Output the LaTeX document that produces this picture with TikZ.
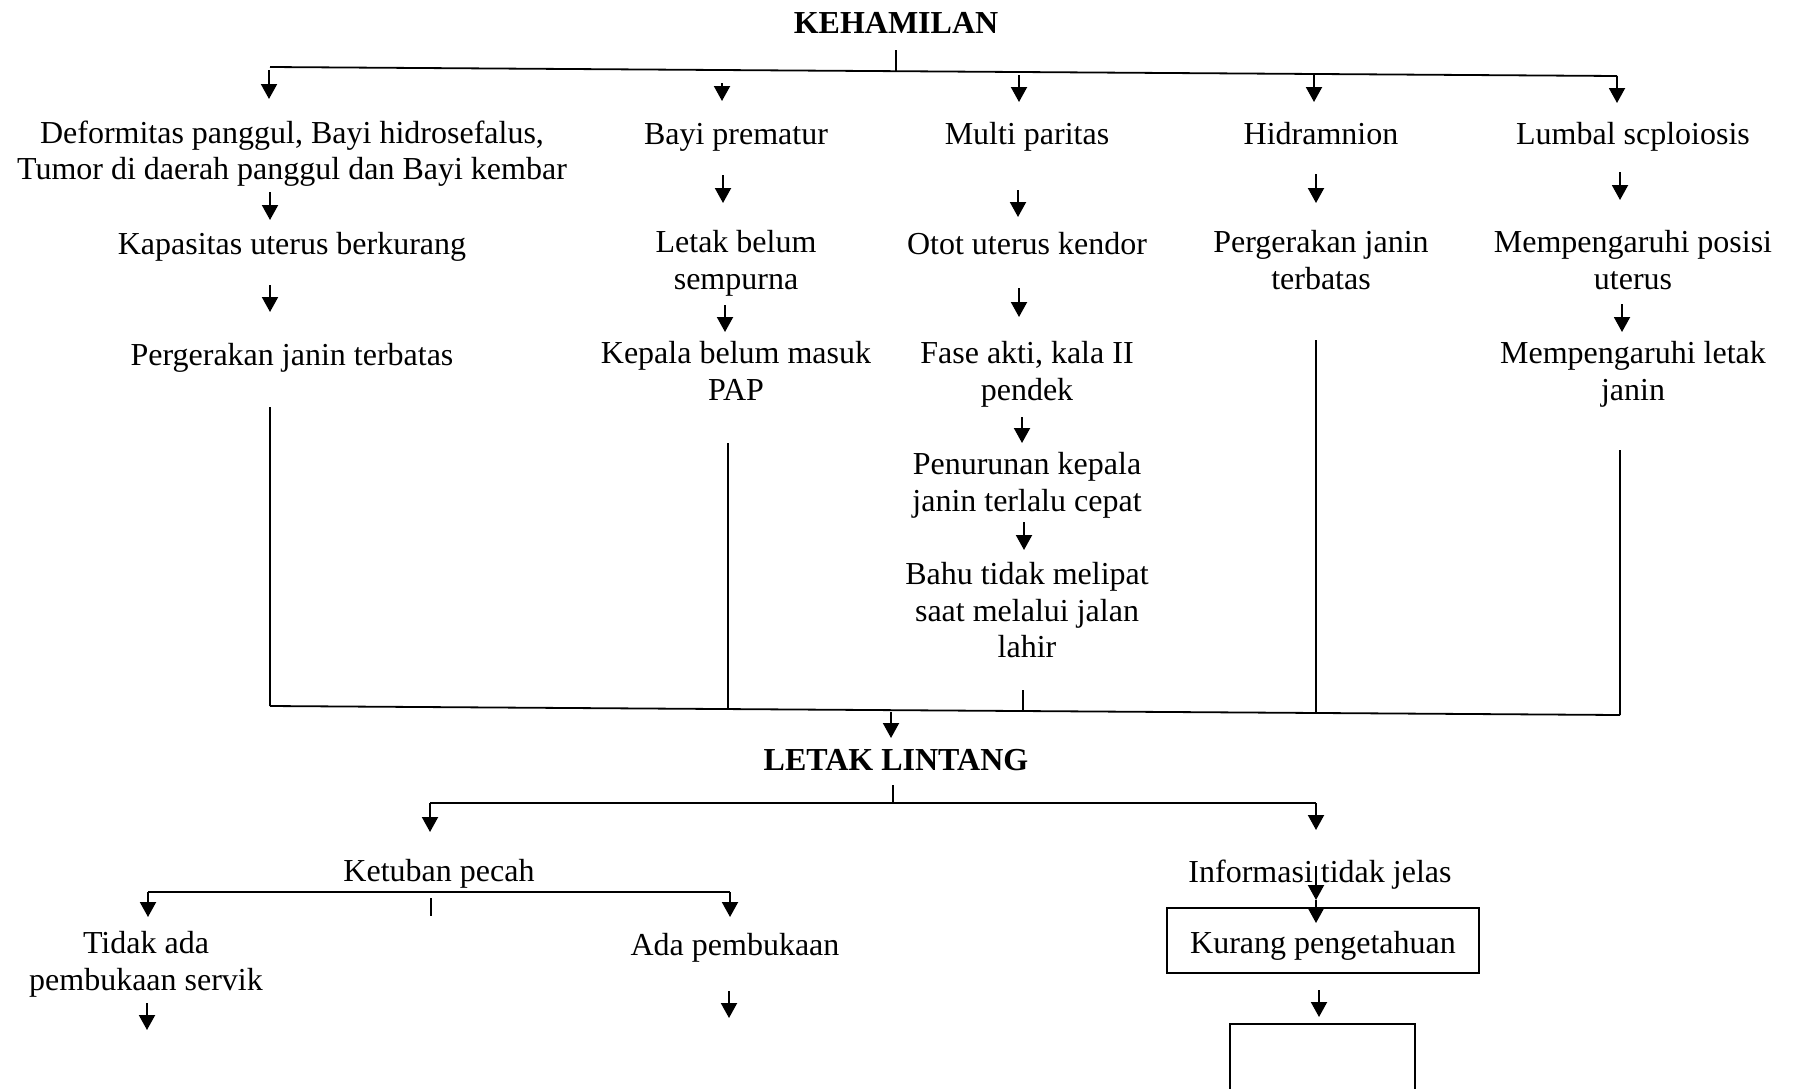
\documentclass[tikz,border=0pt]{standalone}
\usepackage{fontspec}
\setmainfont{Liberation Serif}
\usetikzlibrary{arrows.meta}
\begin{document}
\begin{tikzpicture}[x=0.5pt,y=-0.5pt,
  txt/.style={inner sep=0pt, align=center, font=\fontsize{16}{18.3}\selectfont,
    execute at begin node=\strut, execute at end node=\strut},
  ttl/.style={inner sep=0pt, align=center, font=\fontsize{16}{18.3}\selectfont\bfseries},
  boxed/.style={draw, line width=0.9pt, inner sep=0pt, align=center, font=\fontsize{16}{18.3}\selectfont},
  ln/.style={line width=0.9pt},
  arr/.style={line width=1pt, -{Triangle[width=8pt,length=7.5pt]}}
]
\clip (0,0) rectangle (1794,1088);
\fill[white] (0,0) rectangle (1794,1088);

% ---- text nodes
\node[ttl] (keh) at (896,23) {KEHAMILAN};
\node[txt] (c1a) at (292,155.6) {Deformitas panggul, Bayi hidrosefalus,\\Tumor di daerah panggul dan Bayi kembar};
\node[txt] (c2a) at (736,137.6) {Bayi prematur};
\node[txt] (c3a) at (1027,137.6) {Multi paritas};
\node[txt] (c4a) at (1321,137.6) {Hidramnion};
\node[txt] (c5a) at (1633,137.6) {Lumbal scploiosis};

\node[txt] (c1b) at (292,247.6) {Kapasitas uterus berkurang};
\node[txt] (c2b) at (736,265.6) {Letak belum\\sempurna};
\node[txt] (c3b) at (1027,247.6) {Otot uterus kendor};
\node[txt] (c4b) at (1321,265.6) {Pergerakan janin\\terbatas};
\node[txt] (c5b) at (1633,265.6) {Mempengaruhi posisi\\uterus};

\node[txt] (c1c) at (292,358.6) {Pergerakan janin terbatas};
\node[txt] (c2c) at (736,376.6) {Kepala belum masuk\\PAP};
\node[txt] (c3c) at (1027,376.6) {Fase akti, kala II\\pendek};
\node[txt] (c5c) at (1633,376.6) {Mempengaruhi letak\\janin};
\node[txt] (c3d) at (1027,487.6) {Penurunan kepala\\janin terlalu cepat};
\node[txt] (c3e) at (1027,615.6) {Bahu tidak melipat\\saat melalui jalan\\lahir};

\node[ttl] (ll) at (896,760) {LETAK LINTANG};
\node[txt] (kp) at (439,874.6) {Ketuban pecah};
\node[txt] (inf) at (1320,875.6) {Informasi tidak jelas};
\node[txt] (tda) at (146,966.6) {Tidak ada\\pembukaan servik};
\node[txt] (ada) at (735,948.6) {Ada pembukaan};
\node[boxed, minimum width=156pt, minimum height=32.5pt, text height=13.4pt, text depth=0pt] (kur) at (1323,940.5) {Kurang pengetahuan};
\node[boxed, minimum width=92.5pt, minimum height=55pt, anchor=north] (emp) at (1322.5,1023) {};

% ---- top distribution
\draw[ln] (896,50) -- (896,72);
\draw[ln] (270,67) -- (1617,76);
\draw[arr] (269,70) -- (269,99);
\draw[arr] (722,83) -- (722,101);
\draw[arr] (1019,75) -- (1019,102);
\draw[arr] (1314,75) -- (1314,102);
\draw[arr] (1617,76) -- (1617,103);

% ---- column arrows
\draw[arr] (270,192) -- (270,220);
\draw[arr] (723,175) -- (723,203);
\draw[arr] (1018,190) -- (1018,217);
\draw[arr] (1316,174) -- (1316,203);
\draw[arr] (1620,172) -- (1620,200);

\draw[arr] (270,285) -- (270,312);
\draw[arr] (725,305) -- (725,332);
\draw[arr] (1019,288) -- (1019,317);
\draw[arr] (1622,304) -- (1622,332);

\draw[arr] (1022,417) -- (1022,443);
\draw[arr] (1024,522) -- (1024,550);

% ---- collecting lines
\draw[ln] (270,407) -- (270,706);
\draw[ln] (728,443) -- (728,709);
\draw[ln] (1023,690) -- (1023,710);
\draw[ln] (1316,340) -- (1316,713);
\draw[ln] (1620,450) -- (1620,715);
\draw[ln] (270,706) -- (1620,715);
\draw[arr] (891,712) -- (891,738);

% ---- lower part
\draw[ln] (893,785) -- (893,803);
\draw[ln] (430,803) -- (1316,803);
\draw[arr] (430,803) -- (430,832);
\draw[arr] (1316,803) -- (1316,830);

\draw[ln] (148,892) -- (730,892);
\draw[arr] (148,892) -- (148,917);
\draw[arr] (730,892) -- (730,917);
\draw[ln] (431,898) -- (431,916);

\draw[arr] (1316,866) -- (1316,900);
\draw[arr] (1316,900) -- (1316,923);
\draw[arr] (147,1003) -- (147,1030);
\draw[arr] (729,991) -- (729,1018);
\draw[arr] (1319,990) -- (1319,1017);
\end{tikzpicture}
\end{document}
